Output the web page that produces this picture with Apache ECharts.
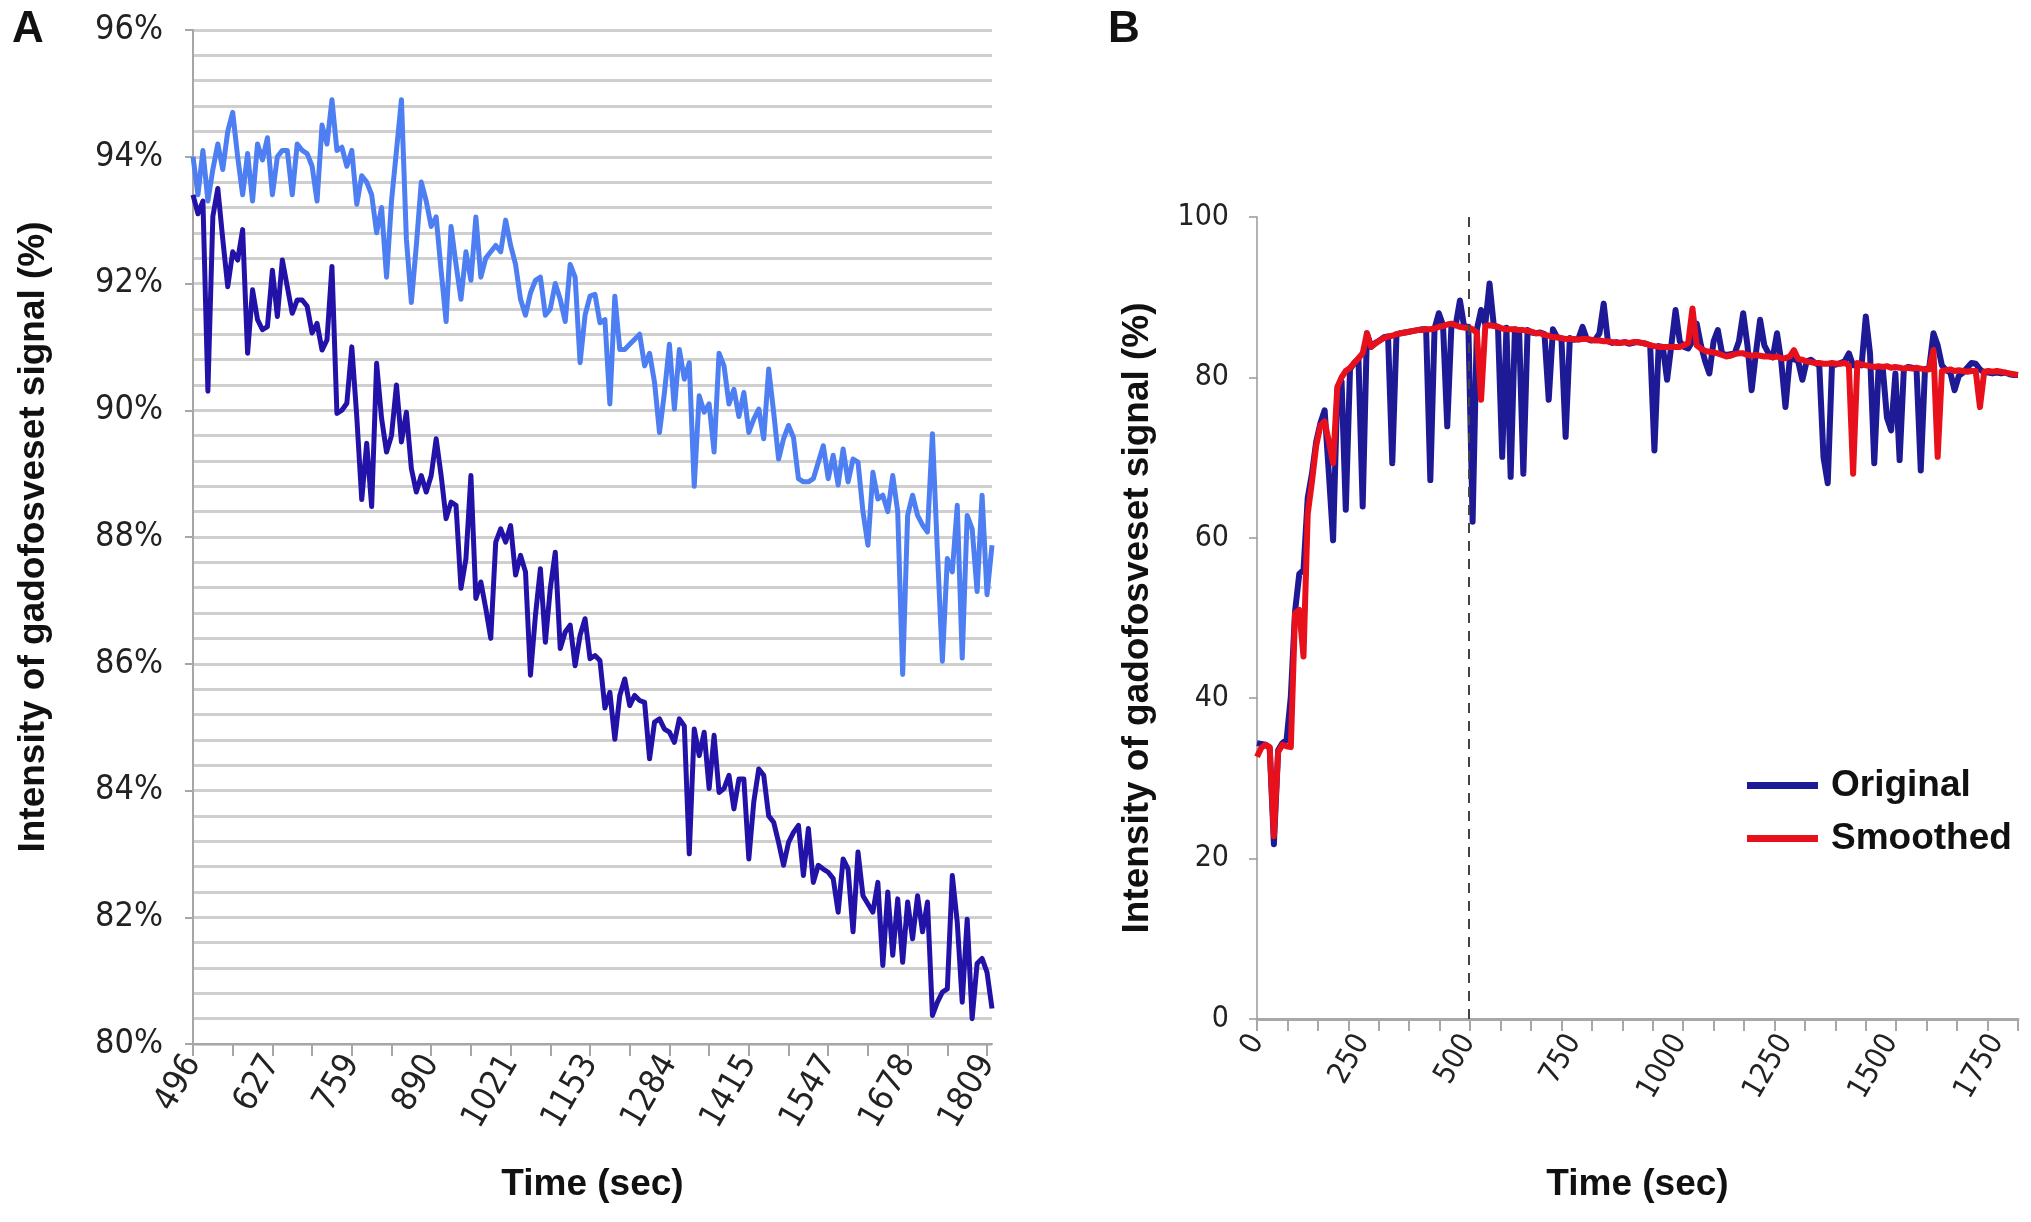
<!DOCTYPE html>
<html>
<head>
<meta charset="utf-8">
<script src="https://cdn.jsdelivr.net/npm/echarts@6/dist/echarts.min.js"></script>
<style>
html,body{margin:0;padding:0;background:#fff;}
#chart{width:2031px;height:1222px;}
</style>
</head>
<body>
<div id="chart"></div>
<script>
// ---------- Panel A data ----------
const tickLabelsA = ['496','627','759','890','1021','1153','1284','1415','1547','1678','1809'];
const lightBlueA = [
94.0,93.4,94.1,93.3,93.8,94.2,93.8,94.4,94.7,94.0,
93.4,94.05,93.3,94.2,93.95,94.3,93.4,94.0,94.1,94.1,
93.4,94.2,94.1,94.05,93.85,93.3,94.5,94.2,94.9,94.1,
94.15,93.85,94.1,93.25,93.7,93.6,93.4,92.8,93.2,92.1,
93.3,94.1,94.9,92.7,91.7,92.6,93.6,93.3,92.9,93.05,
92.2,91.4,92.9,92.3,91.75,92.5,92.05,93.05,92.1,92.4,
92.5,92.6,92.5,93.0,92.6,92.3,91.75,91.5,91.85,92.05,
92.1,91.5,91.6,92.0,91.75,91.4,92.3,92.1,90.75,91.5,
91.8,91.83,91.38,91.43,90.1,91.8,90.96,90.96,91.04,91.12,
91.2,90.7,90.9,90.44,89.65,90.28,91.04,90.02,90.96,90.49,
90.75,88.8,90.23,89.97,90.1,89.34,90.9,90.7,90.1,90.33,
89.9,90.28,89.65,89.86,90.02,89.55,90.65,89.97,89.23,89.55,
89.76,89.57,88.92,88.87,88.87,88.92,89.18,89.44,88.92,89.29,
88.82,89.39,88.87,89.23,89.18,88.4,87.87,89.02,88.6,88.66,
88.4,88.97,88.4,85.83,88.34,88.66,88.34,88.19,88.08,89.63,
87.77,86.04,87.66,87.45,88.5,86.09,88.34,88.13,87.14,88.66,
87.09,87.87
];
const darkBlueA = [
93.4,93.1,93.3,90.3,93.06,93.5,92.7,91.95,92.5,92.37,
92.85,90.9,91.9,91.43,91.27,91.32,92.21,91.48,92.37,91.95,
91.53,91.74,91.74,91.64,91.22,91.37,90.95,91.11,92.27,89.95,
90.0,90.11,91.0,89.9,88.59,89.48,88.48,90.74,89.87,89.34,
89.6,90.4,89.5,89.97,89.08,88.71,88.97,88.71,88.97,89.55,
88.97,88.29,88.55,88.5,87.19,87.66,88.97,87.03,87.29,86.87,
86.4,87.92,88.13,87.92,88.18,87.4,87.71,87.45,85.82,86.76,
87.5,86.34,87.19,87.76,86.24,86.5,86.61,85.97,86.45,86.71,
86.08,86.13,86.05,85.3,85.55,84.81,85.5,85.76,85.34,85.5,
85.42,85.39,84.5,85.08,85.13,84.97,84.92,84.76,85.13,85.02,
83.0,84.97,84.55,84.92,84.03,84.87,83.97,84.03,84.24,83.71,
84.18,84.18,82.92,83.82,84.34,84.24,83.6,83.5,83.18,82.82,
83.18,83.34,83.45,82.66,83.4,82.55,82.82,82.76,82.71,82.61,
82.08,82.92,82.76,81.77,83.03,82.34,82.21,82.08,82.55,81.24,
82.4,81.4,82.29,81.29,82.24,81.66,82.34,81.77,82.24,80.45,
80.66,80.82,80.87,82.66,81.92,80.66,81.97,80.4,81.27,81.35,
81.13,80.56
];
const catsA = lightBlueA.map((_, i) => String(i));

// ---------- Panel B data ----------
const timesB = [
0,10,20,30,40,50,60,70,80,90,
100,110,120,130,140,150,160,170,180,190,
200,210,220,230,240,250,260,270,280,290,
300,310,320,330,340,350,360,370,380,390,
400,410,420,430,440,450,460,470,480,490,
500,510,520,530,540,550,560,570,580,590,
600,610,620,630,640,650,660,670,680,690,
700,710,720,730,740,750,760,770,780,790,
800,810,820,830,840,850,860,870,880,890,
900,910,920,930,940,950,960,970,980,990,
1000,1010,1020,1030,1040,1050,1060,1070,1080,1090,
1100,1110,1120,1130,1140,1150,1160,1170,1180,1190,
1200,1210,1220,1230,1240,1250,1260,1270,1280,1290,
1300,1310,1320,1330,1340,1350,1360,1370,1380,1390,
1400,1410,1420,1430,1440,1450,1460,1470,1480,1490,
1500,1510,1520,1530,1540,1550,1560,1570,1580,1590,
1600,1610,1620,1630,1640,1650,1660,1670,1680,1690,
1700,1710,1720,1730,1740,1750,1760,1770,1780,1790,
1800
];
const originalB = [
34.4,34.3,34.2,33.8,21.8,33.5,34.4,34.8,40.2,50.8,
55.5,56.0,65.0,68.0,72.0,74.3,75.9,68.0,59.7,78.4,
79.5,63.5,81.0,81.8,82.3,63.9,85.5,83.8,84.3,84.6,
85.0,85.1,69.3,85.4,85.5,85.6,85.7,85.8,85.9,86.0,
86.0,67.2,86.1,88.0,86.5,73.9,86.6,86.5,89.6,86.3,
86.3,62.0,86.0,88.4,86.6,91.7,86.5,86.3,70.1,86.2,
67.6,86.0,85.8,68.0,85.9,85.6,85.5,85.6,85.4,77.2,
86.0,85.0,84.9,72.6,84.9,84.7,84.8,86.3,84.8,84.6,
84.7,85.5,89.2,84.5,84.3,84.4,84.3,84.4,84.2,84.3,
84.4,84.3,84.2,84.0,70.9,83.9,83.8,79.7,84.0,88.4,
84.5,83.8,83.6,84.5,86.7,84.0,82.0,80.5,84.5,85.9,
83.0,82.8,82.9,83.0,84.5,88.0,84.0,78.4,83.0,87.2,
84.0,83.0,82.5,85.5,82.0,76.3,82.2,82.3,82.0,79.7,
82.0,82.2,81.8,81.5,70.0,66.8,81.5,81.6,81.8,82.0,
83.0,81.5,81.6,81.5,87.6,83.0,69.3,81.0,81.2,75.0,
73.4,80.5,69.7,81.0,81.3,81.2,81.0,68.4,81.0,81.2,
85.5,84.0,81.5,80.9,80.6,78.4,80.2,80.6,81.2,81.8,
81.7,81.0,80.6,80.6,80.5,80.6,80.5,80.6,80.4,80.3,
80.3
];
const smoothedB = [
32.7,33.8,34.2,33.9,22.8,33.3,34.2,34.0,33.9,50.6,
51.0,45.2,63.0,67.0,71.5,74.0,74.5,72.0,69.3,78.8,
80.0,80.8,81.2,81.8,82.4,83.0,85.5,83.8,84.2,84.6,
84.9,85.1,85.2,85.4,85.5,85.6,85.7,85.8,85.9,85.9,
86.0,86.0,86.1,86.3,86.4,86.6,86.7,86.5,86.3,86.2,
86.2,86.0,85.6,77.2,86.4,86.5,86.4,86.3,86.1,86.0,
86.0,86.0,85.9,85.9,85.8,85.7,85.5,85.5,85.3,85.2,
85.0,85.0,84.9,84.8,84.8,84.8,84.7,84.8,84.8,84.7,
84.6,84.6,84.5,84.5,84.4,84.3,84.3,84.4,84.3,84.4,
84.4,84.3,84.2,84.0,83.9,83.8,83.8,83.8,83.8,83.8,
83.8,84.0,84.3,88.6,84.0,83.6,83.3,83.2,83.1,83.0,
82.8,82.6,82.7,82.9,83.0,83.0,82.8,82.7,82.8,82.7,
82.6,82.6,82.5,82.6,82.4,82.4,82.6,83.4,82.3,82.2,
82.0,81.9,81.8,81.8,81.7,81.7,81.8,81.7,81.7,81.8,
81.5,68.0,81.8,81.6,81.5,81.4,81.3,81.4,81.3,81.4,
81.2,81.3,81.2,81.1,81.2,81.1,81.2,81.1,81.0,81.0,
83.4,70.1,80.8,80.9,81.0,80.8,80.9,80.8,80.7,80.8,
80.8,76.3,80.7,80.8,80.7,80.8,80.7,80.6,80.5,80.4,
80.3
];
const tickLabelsBY = [0, 20, 40, 60, 80, 100];

const narrow = "'Liberation Sans Narrow','DejaVu Sans Condensed','Roboto Condensed',sans-serif";
const boldF = "'Liberation Sans',Arial,Helvetica,sans-serif";
const yTitle = 'Intensity of gadofosveset signal (%)';

const chart = echarts.init(document.getElementById('chart'), null, {renderer: 'canvas'});
const option = {
  animation: false,
  backgroundColor: '#ffffff',
  textStyle: {fontFamily: boldF},
  graphic: [
    {type: 'text', left: 12, top: 8, style: {text: 'A', font: 'bold 44px ' + boldF, fill: '#111'}},
    {type: 'text', left: 1108, top: 8, style: {text: 'B', font: 'bold 44px ' + boldF, fill: '#111'}}
  ],
  legend: {
    data: ['Original', 'Smoothed'],
    orient: 'vertical',
    left: 1742, top: 762,
    icon: 'rect', itemWidth: 71, itemHeight: 7, itemGap: 16,
    textStyle: {fontSize: 37, fontWeight: 'bold', fontFamily: boldF, color: '#111', padding: [0, 0, 0, 8]}
  },
  grid: [
    {left: 193, top: 30, width: 799, height: 1014, containLabel: false},
    {left: 1257, top: 217, width: 761, height: 802, containLabel: false}
  ],
  xAxis: [
    {
      gridIndex: 0, type: 'category', data: catsA, boundaryGap: false, position: 'bottom',
      axisLine: {show: true, lineStyle: {color: '#a6a6a6', width: 2}},
      axisTick: {show: true, interval: 7, length: 12, lineStyle: {color: '#a6a6a6', width: 2}},
      axisLabel: {interval: 15, rotate: 60, margin: 14, fontSize: 34, fontFamily: narrow, color: '#222',
        formatter: (v, i) => tickLabelsA[i / 16] || ''},
      splitLine: {show: false},
      name: 'Time (sec)', nameLocation: 'middle', nameGap: 122,
      nameTextStyle: {fontSize: 37, fontWeight: 'bold', fontFamily: boldF, color: '#111'}
    },
    {
      gridIndex: 1, type: 'value', min: 0, max: 1800, interval: 250, position: 'bottom',
      axisLine: {show: true, lineStyle: {color: '#a8a8a8', width: 3}},
      axisTick: {show: false},
      axisLabel: {rotate: 60, margin: 18, fontSize: 30, fontFamily: narrow, color: '#222', showMaxLabel: false,
        formatter: v => String(v)},
      splitLine: {show: false},
      name: 'Time (sec)', nameLocation: 'middle', nameGap: 147,
      nameTextStyle: {fontSize: 37, fontWeight: 'bold', fontFamily: boldF, color: '#111'}
    },
    {
      gridIndex: 1, type: 'value', min: 0, max: 1800, interval: 72, position: 'bottom',
      axisLine: {show: false},
      axisTick: {show: true, length: 12, lineStyle: {color: '#a8a8a8', width: 2}},
      axisLabel: {show: false},
      splitLine: {show: false}
    }
  ],
  yAxis: [
    {
      gridIndex: 0, type: 'value', min: 80, max: 96, interval: 2,
      axisLine: {show: true, lineStyle: {color: '#a6a6a6', width: 2}},
      axisTick: {show: true, length: 8, lineStyle: {color: '#a6a6a6', width: 2}},
      axisLabel: {formatter: '{value}%', fontSize: 34, fontFamily: narrow, color: '#222', margin: 30},
      splitLine: {show: true, lineStyle: {color: '#cfcfcf', width: 3}},
      minorTick: {show: false, splitNumber: 5},
      minorSplitLine: {show: true, lineStyle: {color: '#cfcfcf', width: 3}},
      name: yTitle, nameLocation: 'middle', nameGap: 141,
      nameTextStyle: {fontSize: 37, fontWeight: 'bold', fontFamily: boldF, color: '#111'}
    },
    {
      gridIndex: 1, type: 'value', min: 0, max: 100, interval: 20,
      axisLine: {show: true, lineStyle: {color: '#999', width: 1.5}},
      axisTick: {show: true, length: 8, lineStyle: {color: '#999', width: 1.5}},
      axisLabel: {fontSize: 30, fontFamily: narrow, color: '#222', margin: 28,
        formatter: v => (tickLabelsBY.indexOf(v) >= 0 ? String(v) : '')},
      splitLine: {show: false},
      name: yTitle, nameLocation: 'middle', nameGap: 101,
      nameTextStyle: {fontSize: 37, fontWeight: 'bold', fontFamily: boldF, color: '#111'}
    }
  ],
  series: [
    {
      name: 'Light', type: 'line', xAxisIndex: 0, yAxisIndex: 0, data: lightBlueA,
      symbol: 'none', lineStyle: {color: '#4d7ef2', width: 5, join: 'round'}, itemStyle: {color: '#4d7ef2'}
    },
    {
      name: 'Dark', type: 'line', xAxisIndex: 0, yAxisIndex: 0, data: darkBlueA,
      symbol: 'none', lineStyle: {color: '#2312a8', width: 5, join: 'round'}, itemStyle: {color: '#2312a8'}
    },
    {
      name: 'Original', type: 'line', xAxisIndex: 1, yAxisIndex: 1,
      data: timesB.map((t, i) => [t, originalB[i]]),
      symbol: 'none', lineStyle: {color: '#1e1a96', width: 6, join: 'round'}, itemStyle: {color: '#1e1a96'},
      markLine: {
        silent: true, symbol: ['none', 'none'], label: {show: false},
        lineStyle: {color: '#444', type: [10, 8], width: 2},
        data: [{xAxis: 500}]
      }
    },
    {
      name: 'Smoothed', type: 'line', xAxisIndex: 1, yAxisIndex: 1,
      data: timesB.map((t, i) => [t, smoothedB[i]]),
      symbol: 'none', lineStyle: {color: '#e8101a', width: 6, join: 'round'}, itemStyle: {color: '#e8101a'}
    }
  ]
};
chart.setOption(option);
</script>
</body>
</html>
